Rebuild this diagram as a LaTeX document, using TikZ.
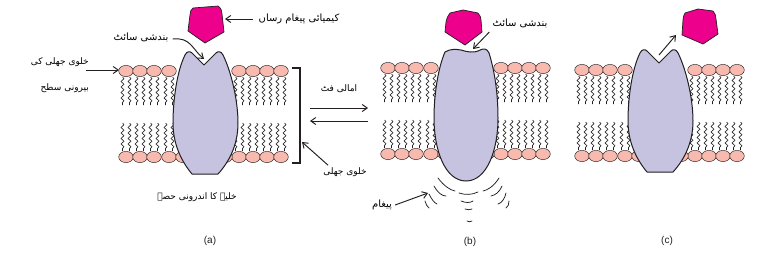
\documentclass[tikz,border=0pt]{standalone}
\usepackage{fontspec}
\setmainfont{Liberation Sans}
\newfontfamily\arabicfont[Script=Arabic]{DejaVu Sans}
\TeXXeTstate=1
\usetikzlibrary{decorations.pathmorphing,arrows.meta}
\definecolor{headfill}{HTML}{F8B9AE}
\definecolor{protfill}{HTML}{C5C3E0}
\definecolor{ligand}{HTML}{EC008C}
\definecolor{ink}{HTML}{231F20}
\newcommand{\ur}[1]{{\arabicfont\beginR #1\endR}}
\tikzset{
  x=1pt,y=-1pt,
  lipidhead/.style={draw=ink,line width=0.45pt,fill=headfill},
  lipidtail/.style={draw=ink,line width=0.6pt,decorate,decoration={snake,segment length=5.5pt,amplitude=1.5pt}},
  protein/.style={draw=ink,line width=1pt,fill=protfill,line join=round},
  messenger/.style={draw=ink,line width=0.7pt,fill=ligand,line join=round},
  pointer/.style={draw=ink,line width=0.95pt,-{Straight Barb[length=5pt,width=7pt,line width=0.95pt]}},
  urdu/.style={font=\fontsize{10}{14}\selectfont,text=black,inner sep=0pt},
  urdusmall/.style={urdu,font=\fontsize{9}{14}\selectfont},
  panel/.style={font=\fontsize{10}{12}\selectfont,text=ink,inner sep=0pt},
  wave/.style={draw=ink,line width=0.75pt,line cap=round},
}
% One bilayer with its two leaflets, drawn around the channel axis at #1
\newcommand{\bilayer}[2]{%
  \foreach \dx in {-78,-64,-50,-35,35,49,63,77}{
    \draw[lipidtail] (#1+\dx-3.5,#2+6) -- (#1+\dx-3.5,#2+34);
    \draw[lipidtail] (#1+\dx+3.5,#2+6) -- (#1+\dx+3.5,#2+34);
    \draw[lipidtail] (#1+\dx-3.5,#2+52) -- (#1+\dx-3.5,#2+80);
    \draw[lipidtail] (#1+\dx+3.5,#2+52) -- (#1+\dx+3.5,#2+80);
    \draw[lipidhead] (#1+\dx,#2) ellipse[x radius=7.3,y radius=5.6];
    \draw[lipidhead] (#1+\dx,#2+86) ellipse[x radius=7.3,y radius=5.6];
  }
  \draw[lipidhead] (#1-21,#2+86) ellipse[x radius=7.3,y radius=5.6];
  \draw[lipidhead] (#1+21,#2+86) ellipse[x radius=7.3,y radius=5.6];
}
% Open channel with the notched binding site; axis at #1, notch height #2
\newcommand{\openchannel}[2]{%
  \draw[protein] (#1,#2) -- (#1-12,#2-12) .. controls (#1-14,#2-14) and (#1-17,#2-14) .. (#1-19,#2-10)
    .. controls (#1-27,#2+6) and (#1-31,#2+35) .. (#1-31,#2+58)
    .. controls (#1-31,#2+80) and (#1-22,#2+97) .. (#1-12,#2+109)
    -- (#1+14,#2+109)
    .. controls (#1+25,#2+97) and (#1+34,#2+80) .. (#1+34,#2+58)
    .. controls (#1+34,#2+35) and (#1+27,#2+6) .. (#1+19,#2-10)
    .. controls (#1+17,#2-14) and (#1+14,#2-14) .. (#1+12,#2-12) -- cycle;
}
\begin{document}
\begin{tikzpicture}
\useasboundingbox (0,0) rectangle (761,252);
\fill[white] (0,0) rectangle (761,252);

\bilayer{204}{71}
\bilayer{466}{68}
\bilayer{660}{70}

\openchannel{204}{65}
\openchannel{659}{63}

% Channel closed round the bound messenger
\draw[protein] (445,52) .. controls (450,49) and (455,49) .. (461,50)
  .. controls (467,52) and (474,53) .. (478,51)
  .. controls (483,48) and (487,48) .. (489,53)
  .. controls (495,72) and (498,95) .. (498,118)
  .. controls (498,150) and (487,181) .. (466,181)
  .. controls (445,181) and (434,150) .. (434,118)
  .. controls (434,95) and (438,68) .. (445,52) -- cycle;

% Messenger molecules
\draw[messenger] (193,8) -- (218,6) .. controls (221,8) and (222,11) .. (222,14) -- (224,32) -- (205,43) -- (188,31) -- (190,15) .. controls (190,12) and (191,9) .. (193,8) -- cycle;
\draw[messenger] (450,13) -- (463,10) -- (478,13) .. controls (480,15) and (481,18) .. (481,20) -- (482,32) -- (465,45) -- (445,32) -- (446,22) .. controls (447,18) and (448,15) .. (450,13) -- cycle;
\draw[messenger] (685,13) -- (698,9) -- (713,11) .. controls (715,13) and (716,16) .. (716,19) -- (718,34) -- (703,44) -- (682,35) -- (683,20) .. controls (683,17) and (684,15) .. (685,13) -- cycle;

% Membrane bracket
\draw[ink,line width=1.2pt] (292,68) -- (300,68) -- (300,163) -- (292,163);

% Labels
\node[urdu] (messengerA) at (299,19) {\ur{کیمیائی پیغام رساں}};
\node[urdu] (siteA) at (141,37) {\ur{بندشی سائٹ}};
\node[urdusmall,anchor=east] (surfaceTop) at (89,62) {\ur{خلوی جھلی کی}};
\node[urdusmall,anchor=east] (surfaceLow) at (89,88) {\ur{بیرونی سطح}};
\node[urdusmall] (fit) at (339,89) {\ur{امالی فٹ}};
\node[urdusmall] (membrane) at (345,172) {\ur{خلوی جھلی}};
\node[urdusmall] (interior) at (197,197) {\ur{خلیہ کا اندرونی حصہ}};
\node[urdu] (siteB) at (520,23) {\ur{بندشی سائٹ}};
\node[urdu] (signal) at (382,205) {\ur{پیغام}};
\node[panel] (capA) at (210,241) {(a)};
\node[panel] (capB) at (470,242) {(b)};
\node[panel] (capC) at (667,241) {(c)};

% Pointer ends on the drawing
\coordinate (tipMessengerA) at (225,19);
\coordinate (tipSiteA) at (204,59);
\coordinate (tipSurface) at (119,70);
\coordinate (tipBracket) at (302,142);
\coordinate (tipSiteB) at (473,49);
\coordinate (tipSignal) at (428,193);
\coordinate (ligandLeave) at (659,55);
\coordinate (ligandGone) at (676,35);
\coordinate (fitL1) at (310,108);
\coordinate (fitR1) at (368,108);
\coordinate (fitL2) at (310,121);
\coordinate (fitR2) at (368,121);

\draw[pointer] (messengerA.west |- tipMessengerA) ++(-6,0) -- (tipMessengerA);
\draw[pointer] (siteA.east) ++(4,2) .. controls +(18,-2) and +(-12,-10) .. (tipSiteA);
\draw[pointer] (surfaceTop.east |- tipSurface) ++(-3,0) -- (tipSurface);
\draw[pointer] (membrane.north west) ++(5,-2) -- (tipBracket);
\draw[pointer] (siteB.west) ++(-3,9) -- (tipSiteB);
\draw[pointer] (signal.east) ++(3,0) -- (tipSignal);
\draw[pointer] (ligandLeave) -- (ligandGone);
\draw[pointer] (fitL1) -- (fitR1);
\draw[pointer] (fitR2) -- (fitL2);

% Signal ripples under the closed channel
\draw[wave] (438,178) .. controls (444,186) and (450,190) .. (455,191);
\draw[wave] (434,186) .. controls (438,193) and (442,196) .. (446,196);
\draw[wave] (429,194) .. controls (431,198) and (434,203) .. (437,204);
\draw[wave] (425,201) .. controls (426,204) and (427,207) .. (429,208);
\draw[wave] (459,193) .. controls (465,195) and (472,195) .. (478,192);
\draw[wave] (461,201) .. controls (466,203) and (470,203) .. (473,201);
\draw[wave] (465,209) .. controls (468,210) and (470,210) .. (472,209);
\draw[wave] (467,221) .. controls (469,222) and (470,222) .. (472,221);
\draw[wave] (499,178) .. controls (494,186) and (488,190) .. (483,191);
\draw[wave] (502,186) .. controls (499,193) and (495,195) .. (491,196);
\draw[wave] (506,193) .. controls (505,198) and (502,203) .. (498,204);
\draw[wave] (509,201) .. controls (509,204) and (508,207) .. (506,208);
\end{tikzpicture}
\end{document}
